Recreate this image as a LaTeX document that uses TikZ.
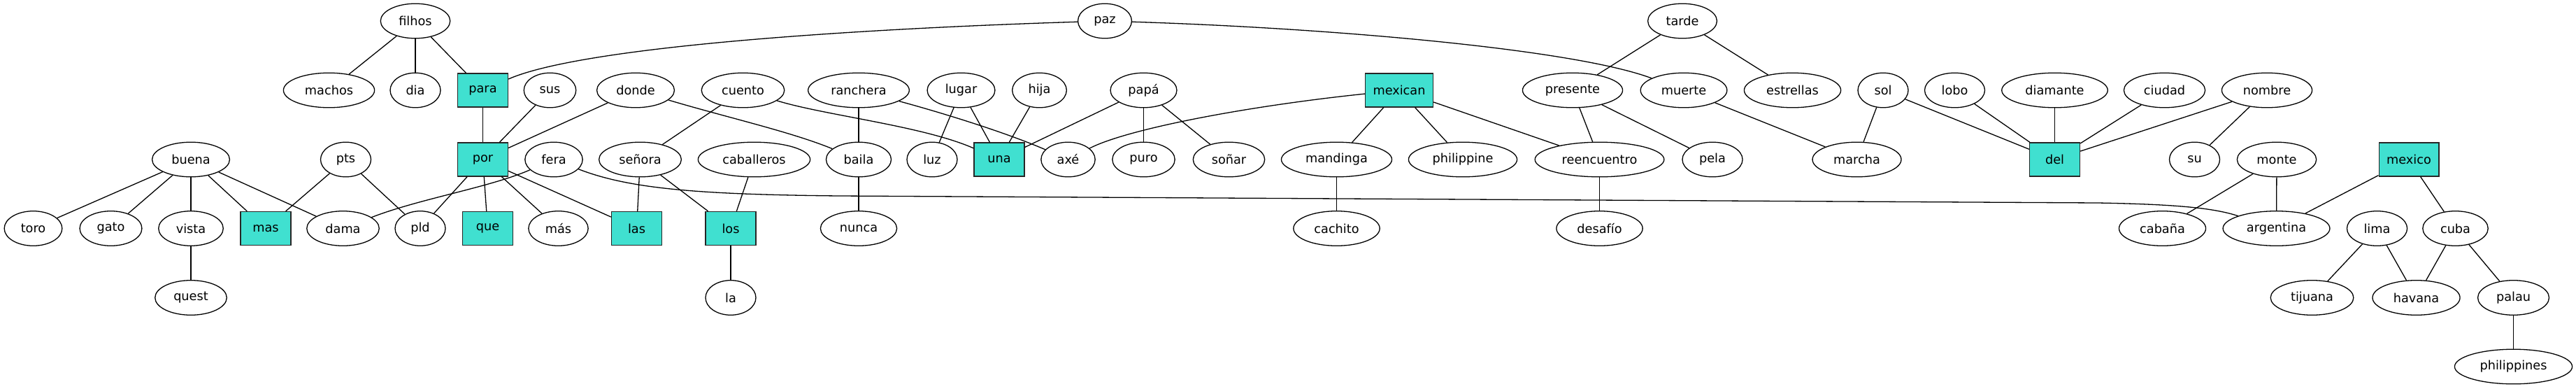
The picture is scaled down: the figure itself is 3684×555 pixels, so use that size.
\documentclass[tikz,border=0pt]{standalone}
\usepackage{fontspec}
\setmainfont{DejaVu Sans}
\definecolor{hubTeal}{RGB}{64, 224, 208}
\usetikzlibrary{shapes.geometric}

\begin{document}
\begin{tikzpicture}[
    x=1pt, y=-1pt,
    term/.style={ellipse, draw, line width=1.3pt,
                 minimum width=72pt, minimum height=49.6pt,
                 inner xsep=11.5pt, inner ysep=0pt,
                 font=\fontsize{17.7}{20}\selectfont},
    hub/.style={rectangle, draw=black!85, fill=hubTeal, line width=1.3pt,
                minimum width=72pt, minimum height=48pt, inner xsep=11pt,
                font=\fontsize{17.7}{20}\selectfont},
    link/.style={line width=1.3pt},
  ]
    \useasboundingbox (0,0) rectangle (3684,555);

    % Row 0
    \node[term] (FILHOS) at (594,30) {filhos};
    \node[term] (PAZ) at (1580,30) {paz};
    \node[term] (TARDE) at (2406,30) {tarde};

    % Row 1
    \node[term] (MACHOS) at (470.5,129) {machos};
    \node[term] (DIA) at (594,129) {dia};
    \node[hub] (PARA) at (690.5,129) {para};
    \node[term] (SUS) at (786.5,129) {sus};
    \node[term] (DONDE) at (909,129) {donde};
    \node[term] (CUENTO) at (1062.5,129) {cuento};
    \node[term] (RANCHERA) at (1228,129) {ranchera};
    \node[term] (LUGAR) at (1374.5,129) {lugar};
    \node[term] (HIJA) at (1486.5,129) {hija};
    \node[term] (PAPA) at (1635.5,129) {papá};
    \node[hub] (MEXICAN) at (2001,129) {mexican};
    \node[term] (PRESENTE) at (2249,129) {presente};
    \node[term] (MUERTE) at (2408,129) {muerte};
    \node[term] (ESTRELLAS) at (2563.5,129) {estrellas};
    \node[term] (SOL) at (2693,129) {sol};
    \node[term] (LOBO) at (2795.5,129) {lobo};
    \node[term] (DIAMANTE) at (2938.5,129) {diamante};
    \node[term] (CIUDAD) at (3095.5,129) {ciudad};
    \node[term] (NOMBRE) at (3242,129) {nombre};

    % Row 2
    \node[term] (BUENA) at (273,228) {buena};
    \node[term] (PTS) at (494.5,228) {pts};
    \node[hub] (POR) at (690.5,228) {por};
    \node[term] (FERA) at (792,228) {fera};
    \node[term] (SENORA) at (915.5,228) {señora};
    \node[term] (CABALLEROS) at (1078.5,228) {caballeros};
    \node[term] (BAILA) at (1228,228) {baila};
    \node[term] (LUZ) at (1333,228) {luz};
    \node[hub] (UNA) at (1429,228) {una};
    \node[term] (AXE) at (1527.5,228) {axé};
    \node[term] (PURO) at (1635.5,228) {puro};
    \node[term] (SONAR) at (1757.5,228) {soñar};
    \node[term] (MANDINGA) at (1911.5,228) {mandinga};
    \node[term] (PHILIPPINE) at (2092,228) {philippine};
    \node[term] (REENCUENTRO) at (2287.5,228) {reencuentro};
    \node[term] (PELA) at (2449,228) {pela};
    \node[term] (MARCHA) at (2655.5,228) {marcha};
    \node[hub] (DEL) at (2938.5,228) {del};
    \node[term] (SU) at (3138.5,228) {su};
    \node[term] (MONTE) at (3256,228) {monte};
    \node[hub] (MEXICO) at (3445,228) {mexico};

    % Row 3
    \node[term] (TORO) at (47.5,326.5) {toro};
    \node[term] (GATO) at (158.5,326.5) {gato};
    \node[term] (VISTA) at (273,326.5) {vista};
    \node[hub] (MAS) at (380,326.5) {mas};
    \node[term] (DAMA) at (490.5,326.5) {dama};
    \node[term] (PLD) at (601,326.5) {pld};
    \node[hub] (QUE) at (697.5,326.5) {que};
    \node[term] (MAS_ACC) at (798.5,326.5) {más};
    \node[hub] (LAS) at (910.5,326.5) {las};
    \node[hub] (LOS) at (1045,326.5) {los};
    \node[term] (NUNCA) at (1228,326.5) {nunca};
    \node[term] (CACHITO) at (1911.5,326.5) {cachito};
    \node[term] (DESAFIO) at (2287.5,326.5) {desafío};
    \node[term] (CABANA) at (3092.5,326.5) {cabaña};
    \node[term] (ARGENTINA) at (3255.5,326.5) {argentina};
    \node[term] (LIMA) at (3399.5,326.5) {lima};
    \node[term] (CUBA) at (3511.5,326.5) {cuba};

    % Row 4 and 5
    \node[term] (QUEST) at (273,425.5) {quest};
    \node[term] (LA) at (1045,425.5) {la};
    \node[term] (TIJUANA) at (3306.5,425.5) {tijuana};
    \node[term] (HAVANA) at (3455.5,425.5) {havana};
    \node[term] (PALAU) at (3594.5,425.5) {palau};
    \node[term] (PHILIPPINES) at (3594.5,524) {philippines};

    % Straight edges
    \foreach \a/\b in {FILHOS/MACHOS, FILHOS/DIA, FILHOS/PARA, PARA/POR,
        TARDE/PRESENTE, TARDE/ESTRELLAS,
        BUENA/TORO, BUENA/GATO, BUENA/VISTA, BUENA/MAS, BUENA/DAMA,
        VISTA/QUEST, PTS/MAS, PTS/PLD,
        SUS/POR, DONDE/POR, POR/PLD, POR/QUE, POR/MAS_ACC, POR/LAS,
        CUENTO/SENORA, SENORA/LAS, SENORA/LOS, CABALLEROS/LOS, LOS/LA,
        RANCHERA/BAILA, BAILA/NUNCA,
        LUGAR/LUZ, LUGAR/UNA, HIJA/UNA, PAPA/UNA, PAPA/PURO, PAPA/SONAR,
        MEXICAN/MANDINGA, MEXICAN/PHILIPPINE, MEXICAN/REENCUENTRO,
        MANDINGA/CACHITO, REENCUENTRO/DESAFIO,
        PRESENTE/REENCUENTRO, PRESENTE/PELA, MUERTE/MARCHA,
        SOL/MARCHA, SOL/DEL, LOBO/DEL, DIAMANTE/DEL, CIUDAD/DEL, NOMBRE/DEL,
        NOMBRE/SU, MONTE/CABANA, MONTE/ARGENTINA,
        MEXICO/ARGENTINA, MEXICO/CUBA, LIMA/TIJUANA, LIMA/HAVANA,
        CUBA/HAVANA, CUBA/PALAU, PALAU/PHILIPPINES}
      \draw[link] (\a) -- (\b);

    % Curved edges
    \draw[link] (PARA) .. controls (830,68) and (1200,42) .. (PAZ);
    \draw[link] (PAZ) .. controls (1900,40) and (2250,70) .. (MUERTE);
    \draw[link] (FERA) .. controls (700,268) and (600,284) .. (DAMA);
    \draw[link] (FERA) .. controls (900,270) and (1000,278) .. (1200,280)
      -- (3000,290) .. controls (3110,292) and (3165,297) .. (ARGENTINA);
    \draw[link] (DONDE) .. controls (1040,168) and (1130,188) .. (BAILA);
    \draw[link] (CUENTO) .. controls (1180,165) and (1320,180) .. (UNA);
    \draw[link] (RANCHERA) .. controls (1350,162) and (1440,190) .. (AXE);
    \draw[link] (AXE) .. controls (1610,185) and (1780,152) .. (MEXICAN);
  \end{tikzpicture}
\end{document}
